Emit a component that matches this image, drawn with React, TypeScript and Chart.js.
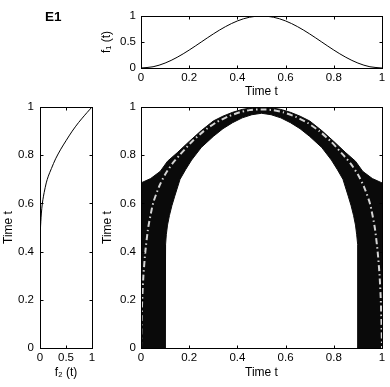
import React, { useEffect, useRef } from "react";
import { Chart, registerables } from "chart.js";

Chart.register(...registerables);

const FONT_FAMILY = "'Liberation Sans', Arial, Helvetica, sans-serif";

// ---- top panel: f1(t) vs Time t ----
const f1Time = [0, 0.05, 0.1, 0.15, 0.2, 0.25, 0.3, 0.35, 0.4, 0.45, 0.5, 0.55, 0.6, 0.65, 0.7, 0.75, 0.8, 0.85, 0.9, 0.95, 1];
const f1Values = [0, 0.024, 0.095, 0.206, 0.345, 0.5, 0.655, 0.794, 0.905, 0.976, 1, 0.976, 0.905, 0.794, 0.655, 0.5, 0.345, 0.206, 0.095, 0.024, 0];

// ---- left panel: Time t vs f2(t) ----
const f2Values = [0, 0, 0.002, 0.006, 0.012, 0.02, 0.035, 0.055, 0.08, 0.12, 0.16, 0.22, 0.3, 0.4, 0.5, 0.62, 0.74, 0.86, 0.95, 1];
const f2Time = [0, 0.4, 0.44, 0.48, 0.51, 0.54, 0.58, 0.615, 0.645, 0.685, 0.713, 0.745, 0.785, 0.825, 0.86, 0.9, 0.935, 0.966, 0.988, 1];

// ---- main panel: black band (outer and inner boundaries) and dash-dot ridge ----
const outerX = [0, 0.04, 0.08, 0.11, 0.15, 0.2, 0.25, 0.3, 0.34, 0.38, 0.42, 0.46, 0.5, 0.54, 0.58, 0.62, 0.66, 0.7, 0.75, 0.8, 0.85, 0.89, 0.92, 0.96, 1];
const outerY = [0.685, 0.703, 0.733, 0.775, 0.81, 0.857, 0.902, 0.942, 0.962, 0.978, 0.99, 0.997, 1, 0.997, 0.99, 0.978, 0.962, 0.942, 0.902, 0.857, 0.81, 0.775, 0.733, 0.703, 0.685];

const innerX = [0.1, 0.1, 0.102, 0.105, 0.11, 0.118, 0.128, 0.14, 0.162, 0.185, 0.21, 0.25, 0.3, 0.34, 0.38, 0.42, 0.46, 0.5, 0.54, 0.58, 0.62, 0.66, 0.7, 0.75, 0.79, 0.815, 0.838, 0.86, 0.872, 0.882, 0.89, 0.895, 0.898, 0.9, 0.9];
const innerY = [0, 0.38, 0.43, 0.47, 0.51, 0.55, 0.59, 0.63, 0.7, 0.74, 0.78, 0.832, 0.878, 0.91, 0.935, 0.955, 0.968, 0.974, 0.968, 0.955, 0.935, 0.91, 0.878, 0.832, 0.78, 0.74, 0.7, 0.63, 0.59, 0.55, 0.51, 0.47, 0.43, 0.38, 0];

const ridgeX = [0, 0.002, 0.005, 0.01, 0.018, 0.03, 0.05, 0.075, 0.1, 0.13, 0.16, 0.21, 0.26, 0.31, 0.36, 0.41, 0.45, 0.5, 0.55, 0.59, 0.64, 0.69, 0.74, 0.79, 0.84, 0.87, 0.9, 0.925, 0.95, 0.97, 0.982, 0.99, 0.995, 0.998, 1];
const ridgeY = [0, 0.1, 0.2, 0.3, 0.4, 0.5, 0.6, 0.67, 0.72, 0.765, 0.8, 0.855, 0.9, 0.935, 0.96, 0.978, 0.987, 0.99, 0.987, 0.978, 0.96, 0.935, 0.9, 0.855, 0.8, 0.765, 0.72, 0.67, 0.6, 0.5, 0.4, 0.3, 0.2, 0.1, 0];

const W = 390;
const H = 387;

const pts = (xs: number[], ys: number[]) => xs.map((x, i) => ({ x, y: ys[i] }));
const fmt = (v: any) => String(+Number(v).toFixed(2));

const framePlugin = {
  id: "frame",
  afterDraw(chart: any, _args: any, opts: any) {
    const { ctx, chartArea: a, scales } = chart;
    const L = Math.round(a.left) + 0.5;
    const R = Math.round(a.right) + 0.5;
    const T = Math.round(a.top) + 0.5;
    const B = Math.round(a.bottom) + 0.5;
    ctx.save();
    ctx.strokeStyle = "#000";
    ctx.lineWidth = 1;
    ctx.strokeRect(L, T, R - L, B - T);
    const tl = 3;
    ctx.beginPath();
    for (const t of scales.x.ticks) {
      const p = Math.round(scales.x.getPixelForValue(t.value)) + 0.5;
      ctx.moveTo(p, B);
      ctx.lineTo(p, B - tl);
      ctx.moveTo(p, T);
      ctx.lineTo(p, T + tl);
    }
    for (const t of scales.y.ticks) {
      const p = Math.round(scales.y.getPixelForValue(t.value)) + 0.5;
      ctx.moveTo(L, p);
      ctx.lineTo(L + tl, p);
      ctx.moveTo(R, p);
      ctx.lineTo(R - tl, p);
    }
    ctx.stroke();
    if (opts && opts.label) {
      ctx.fillStyle = "#000";
      ctx.font = `bold 13.5px ${FONT_FAMILY}`;
      ctx.textAlign = "left";
      ctx.textBaseline = "alphabetic";
      ctx.fillText(opts.label, 45, 20.7);
    }
    ctx.restore();
  },
};

type AxisSpec = {
  step: number;
  title: string;
  size: number;
  titlePad: number;
  tickPad: number;
};

function makeScales(x: AxisSpec, y: AxisSpec) {
  const tickFont = { family: FONT_FAMILY, size: 11.5 };
  const titleFont = { family: FONT_FAMILY, size: 12 };
  return {
    x: {
      type: "linear",
      min: 0,
      max: 1,
      ticks: { stepSize: x.step, font: tickFont, color: "#000", padding: x.tickPad, maxRotation: 0, autoSkip: false, callback: fmt },
      grid: { display: false, drawTicks: false },
      border: { display: false },
      title: { display: true, text: x.title, font: titleFont, color: "#000", padding: { top: 0, bottom: x.titlePad } },
      afterFit: (s: any) => {
        s.height = x.size;
      },
    },
    y: {
      type: "linear",
      min: 0,
      max: 1,
      ticks: { stepSize: y.step, font: tickFont, color: "#000", padding: y.tickPad, autoSkip: false, callback: fmt },
      grid: { display: false, drawTicks: false },
      border: { display: false },
      title: { display: true, text: y.title, font: titleFont, color: "#000", padding: { top: y.titlePad, bottom: 0 } },
      afterFit: (s: any) => {
        s.width = y.size;
      },
    },
  };
}

function baseOptions(padding: any, scales: any, frameOpts: any) {
  return {
    responsive: false,
    animation: false,
    events: [],
    layout: { padding },
    plugins: { legend: { display: false }, tooltip: { enabled: false }, frame: frameOpts },
    elements: { point: { radius: 0 } },
    scales,
  };
}

export default function App() {
  const topRef = useRef<HTMLCanvasElement>(null);
  const leftRef = useRef<HTMLCanvasElement>(null);
  const mainRef = useRef<HTMLCanvasElement>(null);

  useEffect(() => {
    const charts: Chart[] = [];

    // Top panel: area left 141, right 382, top 16, bottom 68
    charts.push(
      new Chart(topRef.current as HTMLCanvasElement, {
        type: "line",
        data: {
          datasets: [
            {
              data: pts(f1Time, f1Values),
              borderColor: "#000",
              borderWidth: 1,
              fill: false,
              cubicInterpolationMode: "monotone",
            },
          ],
        },
        options: baseOptions(
          { left: 99, right: W - 382, top: 16, bottom: H - 68 - 31 },
          makeScales(
            { step: 0.2, title: "Time t", size: 31, titlePad: 0, tickPad: 3 },
            { step: 0.5, title: "f\u2081 (t)", size: 42, titlePad: 0, tickPad: 5 }
          ),
          { label: "E1" }
        ) as any,
        plugins: [framePlugin],
      })
    );

    // Left panel: area left 40, right 92, top 107, bottom 348
    charts.push(
      new Chart(leftRef.current as HTMLCanvasElement, {
        type: "line",
        data: {
          datasets: [
            {
              data: pts(f2Values, f2Time),
              borderColor: "#000",
              borderWidth: 1,
              fill: false,
              tension: 0.3,
            },
          ],
        },
        options: baseOptions(
          { left: 1, right: W - 92, top: 107, bottom: 0 },
          makeScales(
            { step: 0.5, title: "f\u2082 (t)", size: 39, titlePad: 7, tickPad: 3 },
            { step: 0.2, title: "Time t", size: 39, titlePad: 0, tickPad: 6 }
          ),
          {}
        ) as any,
        plugins: [framePlugin],
      })
    );

    // Main panel: area left 141, right 382, top 107, bottom 348
    const band = [{ x: 0, y: 0 }, ...pts(outerX, outerY), { x: 1, y: 0 }, ...pts(innerX, innerY).reverse()];
    charts.push(
      new Chart(mainRef.current as HTMLCanvasElement, {
        type: "line",
        data: {
          datasets: [
            {
              data: pts(ridgeX, ridgeY),
              borderColor: "#d4d4d4",
              borderWidth: 2,
              borderDash: [6, 3, 1.5, 3],
              fill: false,
              tension: 0.2,
            },
            {
              data: band,
              borderColor: "#0a0a0a",
              backgroundColor: "#0a0a0a",
              borderWidth: 1,
              fill: "shape",
              tension: 0,
            },
          ],
        },
        options: baseOptions(
          { left: 100, right: W - 382, top: 107, bottom: 0 },
          makeScales(
            { step: 0.2, title: "Time t", size: 39, titlePad: 7, tickPad: 3 },
            { step: 0.2, title: "Time t", size: 41, titlePad: 0, tickPad: 5 }
          ),
          {}
        ) as any,
        plugins: [framePlugin],
      })
    );

    return () => {
      charts.forEach((c) => c.destroy());
    };
  }, []);

  const canvasStyle: React.CSSProperties = { position: "absolute", left: 0, top: 0, width: W, height: H };
  return (
    <div style={{ position: "fixed", left: 0, top: 0, width: W, height: H, background: "#fff" }}>
      <canvas ref={topRef} width={W} height={H} style={canvasStyle} />
      <canvas ref={leftRef} width={W} height={H} style={canvasStyle} />
      <canvas ref={mainRef} width={W} height={H} style={canvasStyle} />
    </div>
  );
}
